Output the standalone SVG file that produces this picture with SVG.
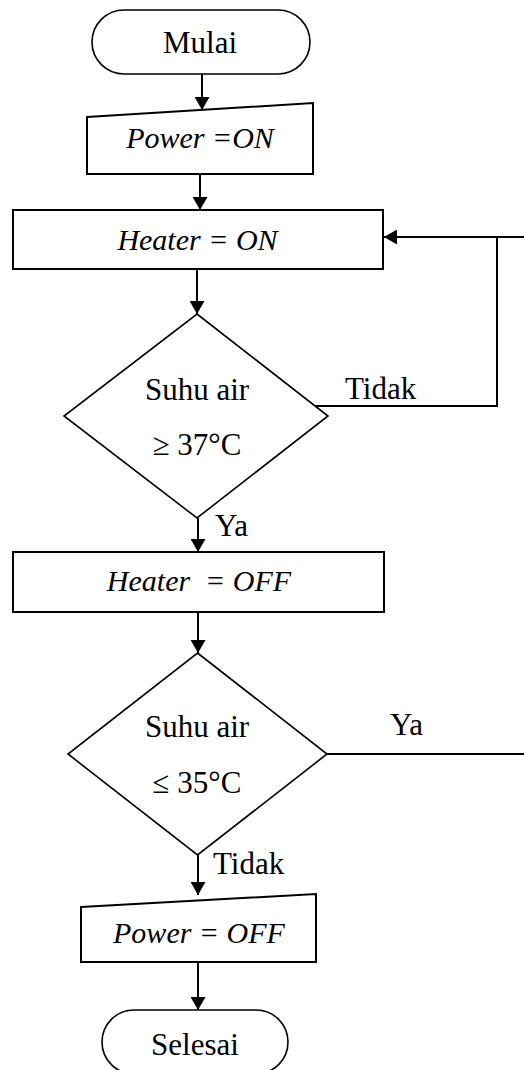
<svg xmlns="http://www.w3.org/2000/svg" width="524" height="1070" viewBox="0 0 524 1070">
<style>
.shape{fill:#fff;stroke:#000;stroke-width:2}
.dia{fill:#fff;stroke:#000;stroke-width:1.6}
.term{fill:#fff;stroke:#000;stroke-width:1.6}
.line{fill:none;stroke:#000;stroke-width:2}
text{font-family:"Liberation Serif","Times New Roman",serif;font-size:31px;fill:#000}
.c{text-anchor:middle}
.i{font-style:italic;font-size:30px}
</style>
<defs>
<marker id="ah" markerUnits="userSpaceOnUse" markerWidth="14" markerHeight="15" refX="13" refY="7.5" orient="auto">
<path d="M0,0 L13,7.5 L0,15 z" fill="#000"/>
</marker>
</defs>
<rect width="524" height="1070" fill="#fff"/>
<g id="connectors">
<line class="line" x1="202" y1="74" x2="202" y2="110" marker-end="url(#ah)"/>
<line class="line" x1="200" y1="174" x2="200" y2="210" marker-end="url(#ah)"/>
<line class="line" x1="197" y1="269" x2="197" y2="314" marker-end="url(#ah)"/>
<polyline class="line" points="315,406 497,406 497,237"/>
<line class="line" x1="524" y1="237" x2="384" y2="237" marker-end="url(#ah)"/>
<line class="line" x1="198" y1="518" x2="198" y2="552" marker-end="url(#ah)"/>
<line class="line" x1="198" y1="612" x2="198" y2="653" marker-end="url(#ah)"/>
<line class="line" x1="327" y1="754" x2="524" y2="754"/>
<line class="line" x1="198" y1="855" x2="198" y2="895" marker-end="url(#ah)"/>
<line class="line" x1="198" y1="962" x2="198" y2="1010" marker-end="url(#ah)"/>
<text x="345" y="399">Tidak</text>
<text x="215" y="536">Ya</text>
<text x="390" y="735">Ya</text>
<text x="213" y="874">Tidak</text>
</g>
<g id="start">
<rect class="term" x="92" y="10" width="218" height="64" rx="32" ry="32"/>
<text class="c" x="200" y="53">Mulai</text>
</g>
<g id="power-on">
<polygon class="shape" points="87,117 313,103 313,174 87,174"/>
<text class="c i" x="200" y="148">Power =ON</text>
</g>
<g id="heater-on">
<rect class="shape" x="13" y="210" width="370" height="59"/>
<text class="c i" x="197.5" y="250">Heater = ON</text>
</g>
<g id="decision1">
<polygon class="dia" points="197,314 328,416 197,518 64,416"/>
<text class="c" x="197" y="400">Suhu air</text>
<text class="c" x="197" y="455">≥ 37°C</text>
</g>
<g id="heater-off">
<rect class="shape" x="13" y="552" width="371" height="60"/>
<text class="c i" x="199" y="591" xml:space="preserve">Heater  = OFF</text>
</g>
<g id="decision2">
<polygon class="dia" points="197.5,653 327,754 197.5,855 68,754"/>
<text class="c" x="197" y="737">Suhu air</text>
<text class="c" x="197" y="793">≤ 35°C</text>
</g>
<g id="power-off">
<polygon class="shape" points="81,907 316,894 316,962 81,962"/>
<text class="c i" x="199" y="943">Power = OFF</text>
</g>
<g id="end">
<rect class="term" x="102" y="1010" width="186" height="64" rx="32" ry="32"/>
<text class="c" x="195" y="1055">Selesai</text>
</g>
</svg>
